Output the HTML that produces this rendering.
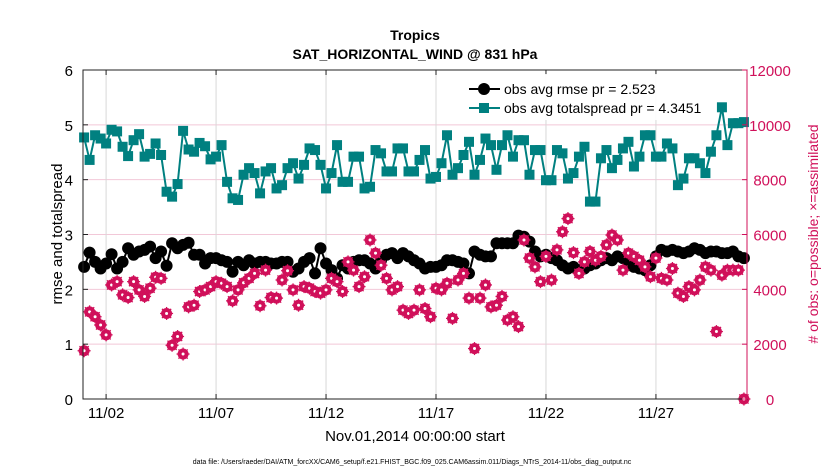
<!DOCTYPE html>
<html><head><meta charset="utf-8"><style>
body{margin:0;background:#fff}
svg{display:block;font-family:"Liberation Sans",sans-serif}
</style></head><body>
<svg id="chart" width="830" height="470" viewBox="0 0 830 470" xmlns="http://www.w3.org/2000/svg">
<rect width="830" height="470" fill="#fff"/>
<text x="415" y="40" text-anchor="middle" font-size="14" font-weight="bold">Tropics</text>
<text x="415" y="59" text-anchor="middle" font-size="14" font-weight="bold">SAT_HORIZONTAL_WIND @ 831 hPa</text>
<g id="grid"></g>
<g id="series"></g>
<rect x="83" y="70" width="664" height="329" fill="none" stroke="#222" stroke-width="1"/>
<line x1="747" y1="70" x2="747" y2="399" stroke="#d0105a" stroke-width="1"/>
<g id="axes"></g>
<text transform="translate(62,234) rotate(-90)" text-anchor="middle" font-size="15">rmse and totalspread</text>
<text transform="translate(818,234) rotate(-90)" text-anchor="middle" font-size="14" fill="#d0105a"># of obs: o=possible; ×=assimilated</text>
<text x="415" y="441" text-anchor="middle" font-size="15">Nov.01,2014 00:00:00 start</text>
<text x="412" y="464" text-anchor="middle" font-size="7">data file: /Users/raeder/DAI/ATM_forcXX/CAM6_setup/f.e21.FHIST_BGC.f09_025.CAM6assim.011/Diags_NTrS_2014-11/obs_diag_output.nc</text>
<g id="legend">
<rect x="460" y="74" width="200" height="46" fill="#fff" fill-opacity="0.9"/>
<line x1="469" y1="89" x2="500" y2="89" stroke="#000" stroke-width="2"/>
<circle cx="484" cy="89" r="6" fill="#000"/>
<text x="504" y="94" font-size="14">obs avg rmse pr = 2.523</text>
<line x1="469" y1="108" x2="500" y2="108" stroke="#008080" stroke-width="2"/>
<rect x="479" y="103" width="10" height="10" fill="#008080"/>
<text x="504" y="113" font-size="14">obs avg totalspread pr = 4.3451</text>
</g>
</svg>
<script>
const rmse=[2.41,2.67,2.50,2.38,2.47,2.64,2.38,2.50,2.75,2.63,2.69,2.72,2.78,2.57,2.69,2.43,2.84,2.75,2.81,2.85,2.63,2.63,2.47,2.57,2.57,2.53,2.50,2.32,2.50,2.44,2.53,2.47,2.50,2.50,2.47,2.47,2.50,2.50,2.32,2.38,
2.50,2.57,2.29,2.75,2.47,2.35,2.20,2.44,2.38,2.50,2.53,2.53,2.47,2.38,2.53,2.63,2.66,2.57,2.66,2.60,2.53,2.47,2.38,2.41,2.41,2.44,2.53,2.53,2.50,2.47,2.29,2.69,2.63,2.60,2.60,2.84,2.84,2.84,2.84,2.98,
2.96,2.87,2.69,2.60,2.63,2.57,2.53,2.44,2.38,2.41,2.35,2.38,2.44,2.47,2.53,2.57,2.53,2.60,2.57,2.44,2.41,2.38,2.35,2.44,2.60,2.72,2.69,2.72,2.69,2.66,2.69,2.75,2.72,2.66,2.69,2.69,2.66,2.66,2.69,2.60,2.57];
const spread=[4.77,4.36,4.81,4.75,4.66,4.91,4.88,4.60,4.43,4.72,4.83,4.42,4.47,4.66,4.45,3.78,3.69,3.92,4.89,4.55,4.51,4.67,4.61,4.37,4.42,4.63,3.96,3.66,3.63,4.09,4.21,4.12,3.75,4.15,4.21,3.84,3.90,4.21,4.30,4.02,
4.27,4.57,4.54,4.27,3.84,4.12,4.63,3.96,3.96,4.42,4.42,3.84,3.87,4.54,4.48,4.15,4.15,4.57,4.57,4.15,4.15,4.36,4.54,4.02,4.05,4.30,4.81,4.09,4.21,4.45,4.69,4.09,4.36,4.75,4.63,4.18,4.63,4.81,4.42,4.72,
4.72,4.09,4.54,4.54,3.99,3.99,4.54,4.48,4.02,4.12,4.42,4.60,3.60,3.60,4.39,4.54,4.21,4.36,4.57,4.69,4.24,4.42,4.81,4.81,4.42,4.42,4.66,4.57,3.90,4.02,4.39,4.39,4.30,4.12,4.51,4.81,5.32,4.63,5.03,5.03,5.05];
const nobs=[1760,3180,3000,2700,2340,4160,4280,3800,3700,4280,3980,3740,4040,4440,4400,3120,1960,2280,1640,3360,3420,3920,3980,4100,4280,4220,4100,3580,3980,4240,4400,4580,3400,4700,3700,3680,4340,4680,3980,3420,
4100,4040,3920,3860,3980,4400,4280,3920,5000,4700,4100,4460,5800,5320,4880,4400,3980,4100,3240,3120,3240,3980,3300,3000,4040,3980,4220,2940,4340,4580,3680,1840,3680,4160,3360,3420,3740,2880,3000,2640,
5800,5140,4820,4280,5200,4340,5440,6100,6580,5340,4580,5000,5380,5060,5200,5620,5980,5800,4700,5320,5200,5060,4820,4460,5140,4400,4340,4760,3860,3740,4100,3980,4340,4820,4700,2460,4520,4700,4700,4700,0];
const leftTicks=[0,1,2,3,4,5,6];
const rightTicks=[0,2000,4000,6000,8000,10000,12000];
const dateTicks=[1,6,11,16,21,26];
const dateLabels=["11/02","11/07","11/12","11/17","11/22","11/27"];
const stepDays=0.25;

const NS="http://www.w3.org/2000/svg";
const X0=83,X1=747,Y0=399,Y1=70,D0=-0.05,D1=30.14;
const xs=d=>X0+(d-D0)/(D1-D0)*(X1-X0);
const yl=v=>Y0-v/6*(Y0-Y1);
const yr=v=>Y0-v/12000*(Y0-Y1);
function mk(tag,attrs,parent){const e=document.createElementNS(NS,tag);for(const k in attrs)e.setAttribute(k,attrs[k]);parent.appendChild(e);return e;}
const grid=document.getElementById('grid'),axes=document.getElementById('axes'),ser=document.getElementById('series');
leftTicks.forEach((t,i)=>{
  if(t>0&&t<6){const g=mk('line',{x1:X0,x2:X1,y1:yl(t),y2:yl(t),stroke:'#f2c8d8','stroke-width':1},grid);
  
  }
  const tx=mk('text',{x:73,y:yl(t)+6,'text-anchor':'end','font-size':15},axes);tx.textContent=t;
  
  
  mk('line',{x1:X0,x2:X0+5,y1:yl(t),y2:yl(t),stroke:'#222'},axes);
});
rightTicks.forEach(t=>{
  const tx=mk('text',{x:770,y:yr(t)+6,'text-anchor':'middle','font-size':15,fill:'#d0105a'},axes);tx.textContent=t;
  
  
  mk('line',{x1:X1-5,x2:X1,y1:yr(t),y2:yr(t),stroke:'#d0105a'},axes);
});
dateTicks.forEach((d,i)=>{
  const g=mk('line',{x1:xs(d),x2:xs(d),y1:Y1,y2:Y0,stroke:'#d8d8d8','stroke-width':1},grid);
  
  
  mk('line',{x1:xs(d),x2:xs(d),y1:Y0-5,y2:Y0,stroke:'#222'},axes);
  mk('line',{x1:xs(d),x2:xs(d),y1:Y1,y2:Y1+5,stroke:'#222'},axes);
  const tx=mk('text',{x:xs(d),y:418,'text-anchor':'middle','font-size':15},axes);tx.textContent=dateLabels[i];
  
  
});
const sp=mk('polyline',{points:spread.map((v,i)=>xs(i*stepDays)+','+yl(v)).join(' '),fill:'none',stroke:'#008080','stroke-width':2},ser);


spread.forEach((v,i)=>{const r=mk('rect',{x:xs(i*stepDays)-5,y:yl(v)-5,width:10,height:10,fill:'#008080'},ser);
  
  });
const rl=mk('polyline',{points:rmse.map((v,i)=>xs(i*stepDays)+','+yl(v)).join(' '),fill:'none',stroke:'#000','stroke-width':2},ser);


rmse.forEach((v,i)=>{const c=mk('circle',{cx:xs(i*stepDays),cy:yl(v),r:6,fill:'#000'},ser);
  
  });
nobs.forEach((v,i)=>{
  const cx=xs(i*stepDays),cy=yr(v);
  const g=mk('g',{},ser);
  
  
  mk('circle',{cx,cy,r:5.5,fill:'#d0105a'},g);
  for(let a=0;a<4;a++){const an=a*Math.PI/4;mk('line',{x1:cx-6.5*Math.cos(an),y1:cy-6.5*Math.sin(an),x2:cx+6.5*Math.cos(an),y2:cy+6.5*Math.sin(an),stroke:'#d0105a','stroke-width':1.3},g);}
  mk('circle',{cx,cy,r:1.5,fill:'#fff'},g);
});
</script>
</body></html>
